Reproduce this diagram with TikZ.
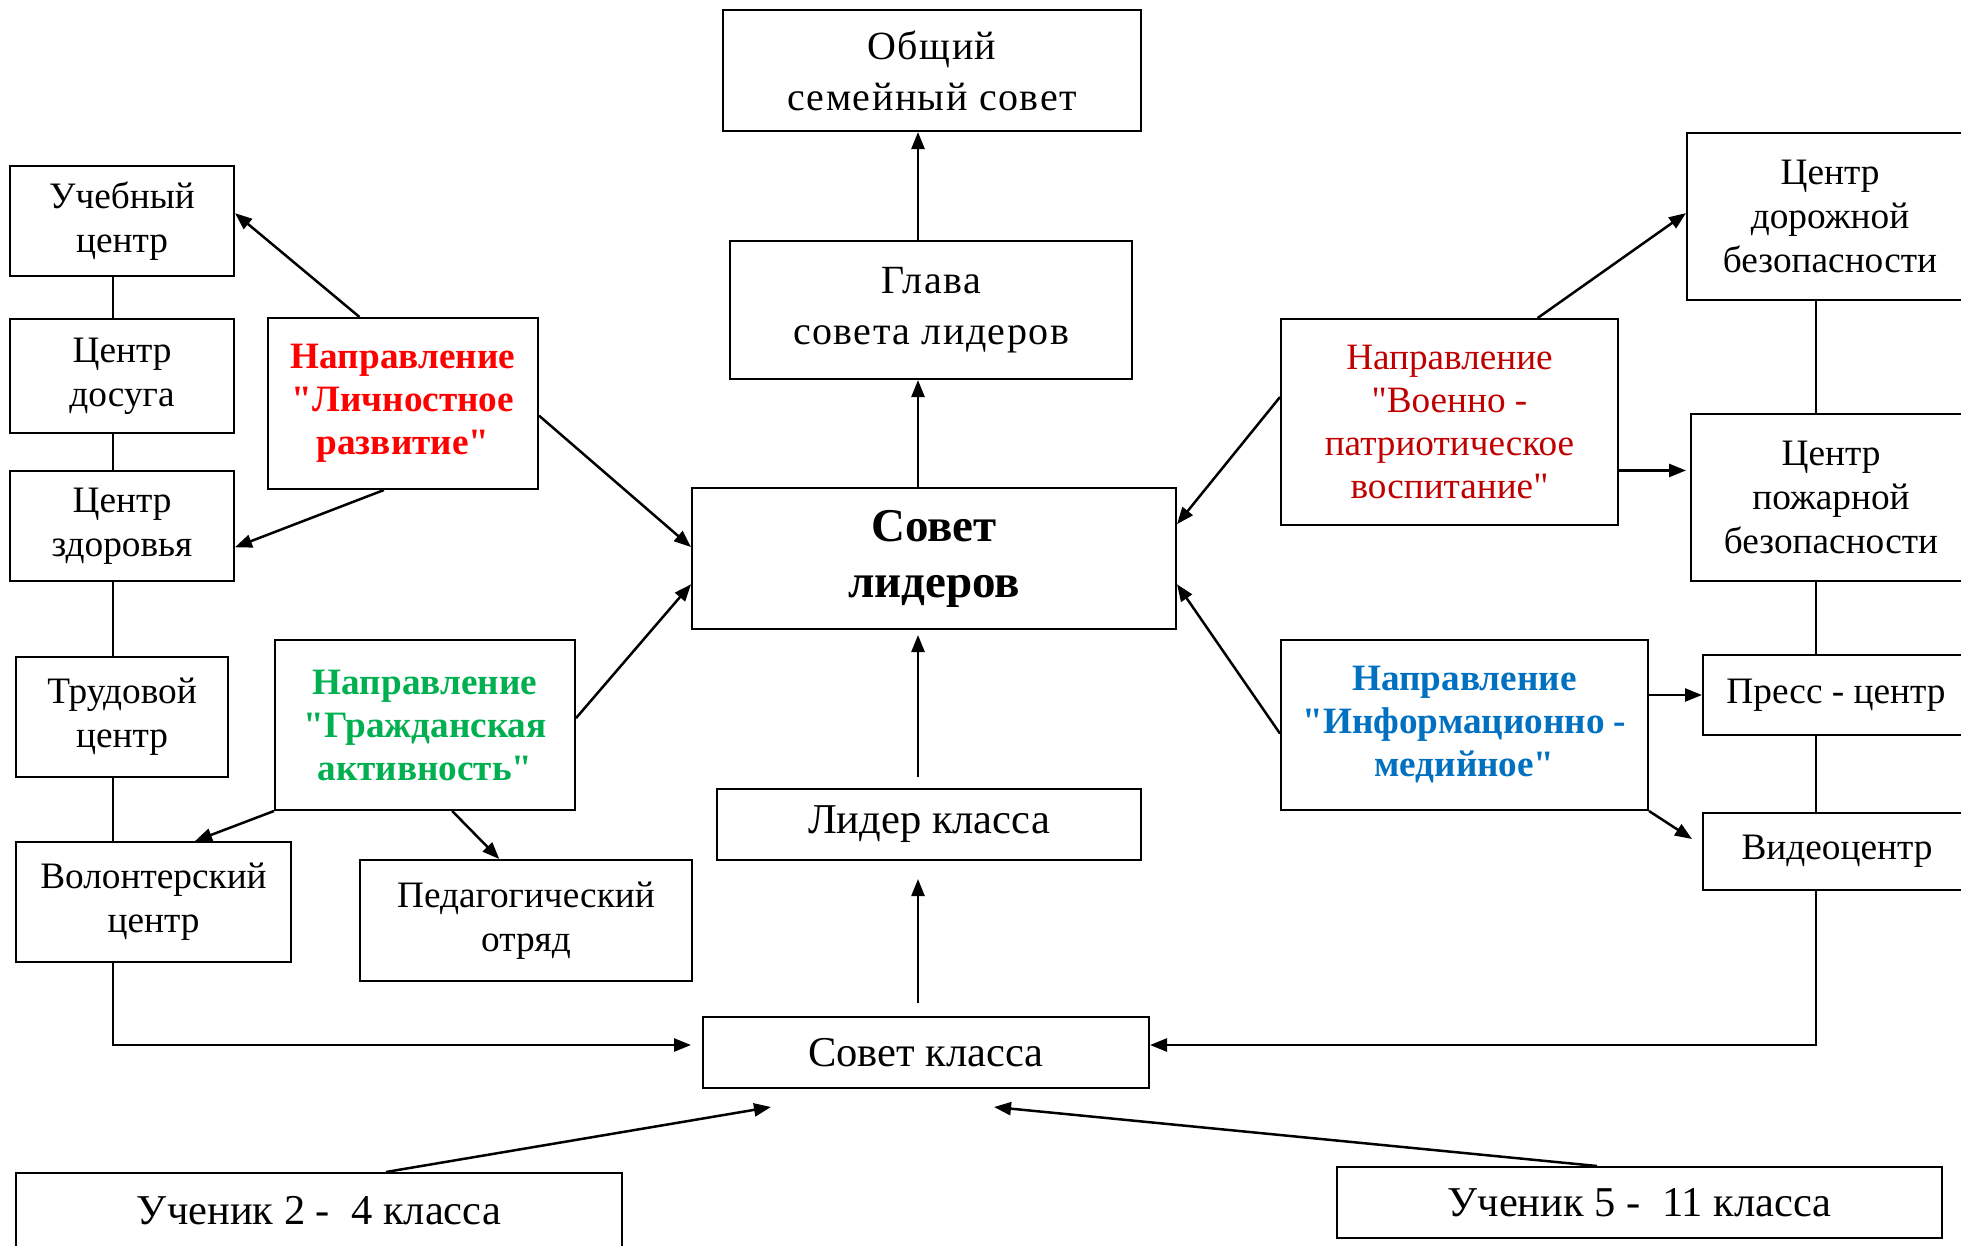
\documentclass[tikz,border=0pt]{standalone}
\usepackage{fontspec}
\setmainfont{Liberation Serif}[Ligatures=TeXOff]
\usetikzlibrary{arrows.meta,calc}
\definecolor{lichred}{RGB}{255,0,0}
\definecolor{grazhgreen}{RGB}{0,176,80}
\definecolor{voenred}{RGB}{192,0,0}
\definecolor{infoblue}{RGB}{0,112,192}

\begin{document}
\begin{tikzpicture}[x=1pt, y=-1pt]
\tikzset{box/.style={draw, line width=2pt, fill=white, align=center, inner sep=0pt,
  font=\fontsize{37.3}{44}\selectfont}}
\tikzset{bigbox/.style={box, font=\fontsize{42.5}{48}\selectfont}}
\tikzset{topbox/.style={box, font=\fontsize{40}{51}\selectfont\addfontfeature{LetterSpace=3.7}}}
\tikzset{dirbox/.style={box, font=\fontsize{37.2}{43}\selectfont\bfseries}}
\tikzset{link/.style={line width=2.5pt, -{Triangle[length=17pt,width=13pt]}}}
\tikzset{rail/.style={line width=2pt}}
\useasboundingbox (0,0) rectangle (1961,1245);
\fill[white] (0,0) rectangle (1961,1245);

\node[topbox, minimum width=418pt, minimum height=121pt] (obshchiy) at (932,70.5) {Общий\\семейный совет};
\node[topbox, minimum width=402pt, minimum height=138pt] (glava) at (931,310) {Глава\\совета лидеров};
\node[box, minimum width=484pt, minimum height=141pt, font=\fontsize{47}{56}\selectfont\bfseries] (sovlid) at (934,558.5) {Совет\\лидеров};
\node[bigbox, minimum width=424pt, minimum height=71pt] (lidkl) at (929,824.5) {Лидер класса};
\node[bigbox, minimum width=446pt, minimum height=71pt] (sovkl) at (926,1052.5) {Совет класса};
\node[bigbox, minimum width=606pt, minimum height=76pt] (uch24) at (319,1211) {Ученик 2 - \ 4 класса};
\node[bigbox, minimum width=605pt, minimum height=71pt] (uch511) at (1639.5,1202.5) {Ученик 5 - \ 11 класса};

\node[box, minimum width=224pt, minimum height=110pt] (ucheb) at (122,221) {Учебный\\центр};
\node[box, minimum width=224pt, minimum height=114pt] (dosug) at (122,376) {Центр\\досуга};
\node[box, minimum width=224pt, minimum height=110pt] (zdor) at (122,526) {Центр\\здоровья};
\node[box, minimum width=212pt, minimum height=120pt] (trud) at (122,717) {Трудовой\\центр};
\node[box, minimum width=275pt, minimum height=120pt] (volon) at (153.5,902) {Волонтерский\\центр};
\node[box, minimum width=332pt, minimum height=121pt] (pedag) at (526,920.5) {Педагогический\\отряд};

\node[dirbox, text=lichred, minimum width=270pt, minimum height=171pt] (lich) at (403,403.5) {Направление\\"Личностное\\развитие"};
\node[dirbox, text=grazhgreen, minimum width=300pt, minimum height=170pt] (grazh) at (425,725) {Направление\\"Гражданская\\активность"};
\node[dirbox, text=voenred, font=\fontsize{37.2}{43}\selectfont, minimum width=337pt, minimum height=206pt] (voen) at (1449.5,422) {Направление\\"Военно -\\патриотическое\\воспитание"};
\node[dirbox, text=infoblue, minimum width=367pt, minimum height=170pt] (inform) at (1464.5,725) {Направление\\"Информационно -\\медийное"};

\node[box, minimum width=286pt, minimum height=167pt] (dorozh) at (1830,216.5) {Центр\\дорожной\\безопасности};
\node[box, minimum width=280pt, minimum height=167pt] (pozh) at (1831,497.5) {Центр\\пожарной\\безопасности};
\node[box, minimum width=266pt, minimum height=80pt] (press) at (1836,695) {Пресс - центр};
\node[box, minimum width=268pt, minimum height=77pt] (video) at (1837,851.5) {Видеоцентр};

\coordinate (mid) at (918,0);
\coordinate (lx) at (113,1045);
\coordinate (rx) at (1816,1045);
\coordinate (in24) at (771,1107);
\coordinate (in511) at (994,1107);
\coordinate (pozhin) at ($(pozh.north west)!0.34!(pozh.south west)+(-4,0)$);

\draw[link] (glava.north -| mid) -- (obshchiy.south -| mid);
\draw[link] (sovlid.north -| mid) -- (glava.south -| mid);
\draw[link, shorten <=11pt, shorten >=5pt] (lidkl.north -| mid) -- (sovlid.south -| mid);
\draw[link, shorten <=13pt, shorten >=18pt] (sovkl.north -| mid) -- (lidkl.south -| mid);

\draw[rail] (ucheb.south -| lx) -- (dosug.north -| lx);
\draw[rail] (dosug.south -| lx) -- (zdor.north -| lx);
\draw[rail] (zdor.south -| lx) -- (trud.north -| lx);
\draw[rail] (trud.south -| lx) -- (volon.north -| lx);
\draw[link, shorten >=11pt] (volon.south -| lx) -- (lx) -- (sovkl.west |- lx);

\draw[rail] (dorozh.south -| rx) -- (pozh.north -| rx);
\draw[rail] (pozh.south -| rx) -- (press.north -| rx);
\draw[rail] (press.south -| rx) -- (video.north -| rx);
\draw[link] (video.south -| rx) -- (rx) -- (sovkl.east |- rx);

\draw[link] ($(lich.north west)!0.34!(lich.north east)$) -- ($(ucheb.north east)!0.43!(ucheb.south east)$);
\draw[link] ($(lich.south west)!0.43!(lich.south east)$) -- ($(zdor.north east)!0.69!(zdor.south east)$);
\draw[link] ($(lich.north east)!0.57!(lich.south east)$) -- ($(sovlid.north west)!0.42!(sovlid.south west)$);
\draw[link] ($(grazh.north east)!0.46!(grazh.south east)$) -- ($(sovlid.north west)!0.68!(sovlid.south west)$);
\draw[link] (grazh.south west) -- ($(volon.north west)!0.65!(volon.north east)$);
\draw[link] ($(grazh.south west)!0.59!(grazh.south east)$) -- ($(pedag.north west)!0.42!(pedag.north east)$);

\draw[link] ($(voen.north west)!0.38!(voen.south west)$) -- ($(sovlid.north east)!0.26!(sovlid.south east)$);
\draw[link] ($(voen.north west)!0.76!(voen.north east)$) -- ($(dorozh.north west)!0.48!(dorozh.south west)$);
\draw[link] (voen.east |- pozhin) -- (pozhin);
\draw[link] ($(inform.north west)!0.55!(inform.south west)$) -- ($(sovlid.north east)!0.68!(sovlid.south east)$);
\draw[link] (inform.east |- press.west) -- (press.west);
\draw[link] (inform.south east) -- ($(video.north west)+(-10,27)$);

\draw[link] ($(uch24.north west)!0.61!(uch24.north east)$) -- (in24);
\draw[link] ($(uch511.north west)!0.43!(uch511.north east)$) -- (in511);
\end{tikzpicture}
\end{document}
